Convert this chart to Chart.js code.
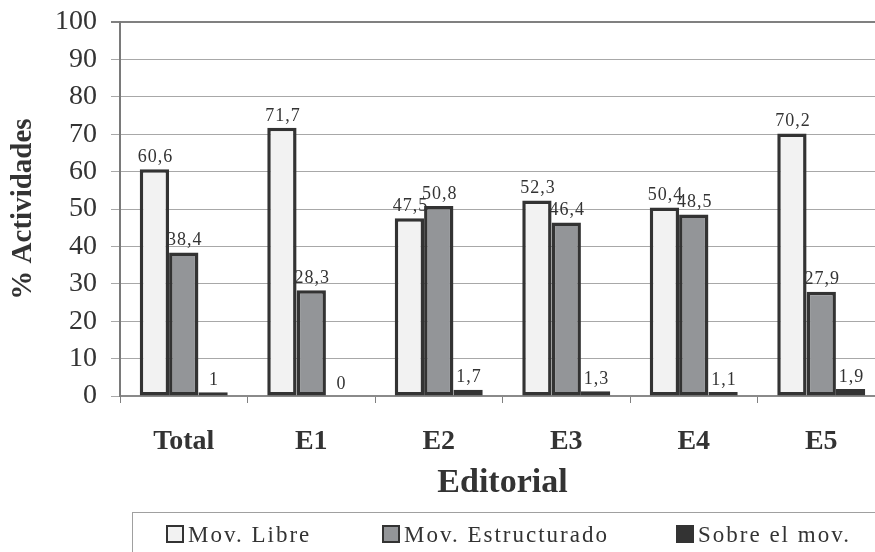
<!DOCTYPE html>
<html>
<head>
<meta charset="utf-8">
<script src="https://cdn.jsdelivr.net/npm/chart.js@4/dist/chart.umd.min.js"></script>
<style>
  html, body { margin: 0; padding: 0; background: #fff; overflow: hidden; }
  #wrap { position: relative; width: 875px; height: 552px; overflow: hidden; }
  #chart { position: absolute; left: 0; top: 0; }
  #legend {
    position: absolute; left: 132px; top: 512px; width: 800px; height: 60px;
    border: 1px solid #a0a0a0; box-sizing: border-box;
    font-family: 'Liberation Serif', 'Times New Roman', serif; font-size: 23px;
    color: #333; letter-spacing: 2px;
  }
  .item { position: absolute; top: 9px; white-space: nowrap; }
  .sw { display: inline-block; width: 14px; height: 14px; border: 2px solid #333; vertical-align: -1px; margin-right: 4px; }
</style>
</head>
<body>
<div id="wrap">
  <canvas id="chart" width="890" height="552"></canvas>
  <div id="legend"></div>
</div>
<script>
const categories = ['Total', 'E1', 'E2', 'E3', 'E4', 'E5'];
const seriesNames = ['Mov. Libre', 'Mov. Estructurado', 'Sobre el mov.'];
const movLibre = [60.6, 71.7, 47.5, 52.3, 50.4, 70.2];
const movEstructurado = [38.4, 28.3, 50.8, 46.4, 48.5, 27.9];
const sobreMov = [1, 0, 1.7, 1.3, 1.1, 1.9];
const yTicks = [0, 10, 20, 30, 40, 50, 60, 70, 80, 90, 100];

const fills = ['#f2f2f2', '#939598', '#333333'];
const serif = "'Liberation Serif', 'Times New Roman', serif";

// value labels above each bar, decimal comma like the original
const barLabels = {
    id: 'barLabels',
    afterDatasetsDraw(chart) {
        const ctx = chart.ctx;
        ctx.save();
        ctx.font = '18px ' + serif;
        ctx.fillStyle = '#333';
        ctx.textAlign = 'center';
        ctx.textBaseline = 'bottom';
        ctx.letterSpacing = '1px';
        chart.data.datasets.forEach((ds, i) => {
            chart.getDatasetMeta(i).data.forEach((bar, j) => {
                const txt = String(ds.data[j]).replace('.', ',');
                ctx.fillText(txt, bar.x + 1, bar.y - 3);
            });
        });
        ctx.restore();
    }
};

const ctx = document.getElementById('chart').getContext('2d');
new Chart(ctx, {
    type: 'bar',
    data: {
        labels: categories,
        datasets: [movLibre, movEstructurado, sobreMov].map((d, i) => ({
            label: seriesNames[i],
            data: d,
            backgroundColor: fills[i],
            borderColor: '#333333',
            borderWidth: 3.5,
            borderSkipped: false,
            categoryPercentage: 0.69,
            barPercentage: 1
        }))
    },
    options: {
        responsive: false,
        animation: false,
        layout: { padding: { top: 22, right: 5, bottom: 47, left: 0 } },
        plugins: { legend: { display: false }, tooltip: { enabled: false } },
        scales: {
            x: {
                grid: { drawOnChartArea: false, drawTicks: true, tickLength: 7, color: '#808080' },
                border: { color: '#8a8a8a', width: 2 },
                ticks: { font: { family: serif, size: 28, weight: 'bold' }, color: '#333', padding: 22, autoSkip: false, maxRotation: 0 },
                title: {
                    display: true, text: 'Editorial', color: '#333',
                    font: { family: serif, size: 34, weight: 'bold' },
                    padding: { top: 0, bottom: 1 }
                },
                afterFit(scale) { scale.height = 109; scale.paddingLeft = 0; scale.paddingRight = 0; }
            },
            y: {
                min: 0, max: 100,
                afterBuildTicks(scale) { scale.ticks = yTicks.map(v => ({ value: v })); },
                grid: {
                    color: c => c.tick && c.tick.value === 100 ? '#808080' : '#a8a8a8',
                    lineWidth: c => c.tick && c.tick.value === 100 ? 2 : 1,
                    tickLength: 9
                },
                border: { color: '#7a7a7a', width: 2 },
                ticks: { font: { family: serif, size: 28 }, color: '#333', padding: 14, autoSkip: false },
                title: {
                    display: true, text: '% Actividades', color: '#333',
                    font: { family: serif, size: 29, weight: 'bold' },
                    padding: { top: 6, bottom: 0 }
                },
                afterFit(scale) { scale.width = 120; scale.paddingTop = 0; scale.paddingBottom = 0; }
            }
        }
    },
    plugins: [barLabels]
});

// legend drawn as html so it can run off the right edge like the original
const legend = document.getElementById('legend');
const legendLeft = [33, 249, 543];
seriesNames.forEach((name, i) => {
    const it = document.createElement('div');
    it.className = 'item';
    it.style.left = legendLeft[i] + 'px';
    it.innerHTML = '<span class="sw" style="background:' + fills[i] + '"></span>' + name;
    legend.appendChild(it);
});
</script>
</body>
</html>
